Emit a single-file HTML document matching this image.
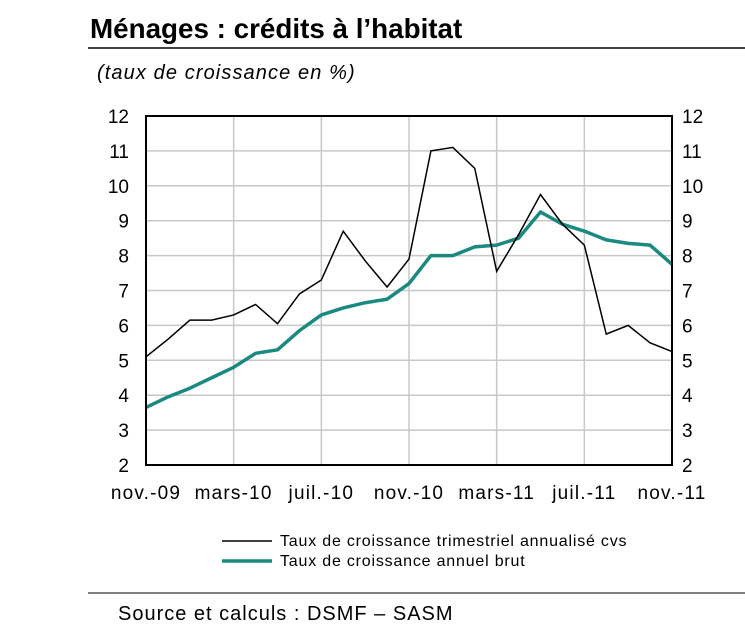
<!DOCTYPE html>
<html><head><meta charset="utf-8"><style>
body{margin:0;background:#fff;width:745px;height:637px;overflow:hidden;font-family:"Liberation Sans",Arial,sans-serif}
</style></head><body>
<svg width="745" height="637" font-family="Liberation Sans, Arial, sans-serif">
<text x="90" y="38" font-size="27.8" font-weight="bold">Ménages : crédits à l’habitat</text>
<line x1="88" y1="48" x2="745" y2="48" stroke="#000" stroke-width="1.5"/>
<text x="97" y="79" font-size="20" font-style="italic" letter-spacing="1.1">(taux de croissance en %)</text>
<g id="grid"></g>
<g id="series"></g>
<rect x="146" y="116" width="526" height="349" fill="none" stroke="#000" stroke-width="2"/>
<g id="labels" font-size="19"></g>
<line x1="222" y1="541" x2="272" y2="541" stroke="#000" stroke-width="1.5"/>
<text x="280" y="546" font-size="16" letter-spacing="0.8">Taux de croissance trimestriel annualisé cvs</text>
<line x1="222" y1="561" x2="272" y2="561" stroke="#1a8a80" stroke-width="3.5"/>
<text x="280" y="566" font-size="16" letter-spacing="0.8">Taux de croissance annuel brut</text>
<line x1="88" y1="593" x2="745" y2="593" stroke="#000" stroke-width="1"/>
<text x="118" y="620" font-size="20" letter-spacing="1">Source et calculs : DSMF – SASM</text>
</svg>
<script>
const months = 25;
const xTickLabels = ["nov.-09","mars-10","juil.-10","nov.-10","mars-11","juil.-11","nov.-11"];
const yTicks = [2,3,4,5,6,7,8,9,10,11,12];
const trimestriel = [5.1,5.6,6.15,6.15,6.3,6.6,6.05,6.9,7.3,8.7,7.85,7.1,7.9,11.0,11.1,10.5,7.55,8.6,9.75,8.9,8.3,5.75,6.0,5.5,5.25];
const annuel = [3.65,3.95,4.2,4.5,4.8,5.2,5.3,5.85,6.3,6.5,6.65,6.75,7.2,8.0,8.0,8.25,8.3,8.5,9.25,8.9,8.7,8.45,8.35,8.3,7.75];
const NS="http://www.w3.org/2000/svg";
const X0=146,X1=672,Y0=465,Y1=116;
const xs=i=>X0+(X1-X0)*i/(months-1);
const ys=v=>Y0-(v-2)/10*(Y0-Y1);
function mk(t,a,p){const e=document.createElementNS(NS,t);for(const k in a)e.setAttribute(k,a[k]);p.appendChild(e);return e;}
const grid=document.getElementById('grid'),lab=document.getElementById('labels'),ser=document.getElementById('series');
yTicks.forEach(v=>{
  if(v>2&&v<12){const l=mk('line',{x1:X0,x2:X1,y1:ys(v),y2:ys(v),stroke:'#c8c8c8','stroke-width':1.5},grid);
  
  }
  const t=mk('text',{x:129,y:ys(v)+7,'text-anchor':'end'},lab);t.textContent=v;
  
  
  const t2=mk('text',{x:682,y:ys(v)+7},lab);t2.textContent=v;
  
  
});
xTickLabels.forEach((s,k)=>{
  const x=xs(k*4);
  if(k>0&&k<xTickLabels.length-1){const l=mk('line',{x1:x,x2:x,y1:Y1,y2:Y0,stroke:'#c8c8c8','stroke-width':1.5},grid);
  
  }
  const t=mk('text',{x:x,y:499,'text-anchor':'middle','letter-spacing':'1.2'},lab);t.textContent=s;
  
  
});
const p1=mk('polyline',{points:annuel.map((v,i)=>xs(i)+','+ys(v)).join(' '),fill:'none',stroke:'#1a8a80','stroke-width':3.5,'stroke-linejoin':'round'},ser);


const p2=mk('polyline',{points:trimestriel.map((v,i)=>xs(i)+','+ys(v)).join(' '),fill:'none',stroke:'#000','stroke-width':1.5},ser);


</script>
</body></html>
